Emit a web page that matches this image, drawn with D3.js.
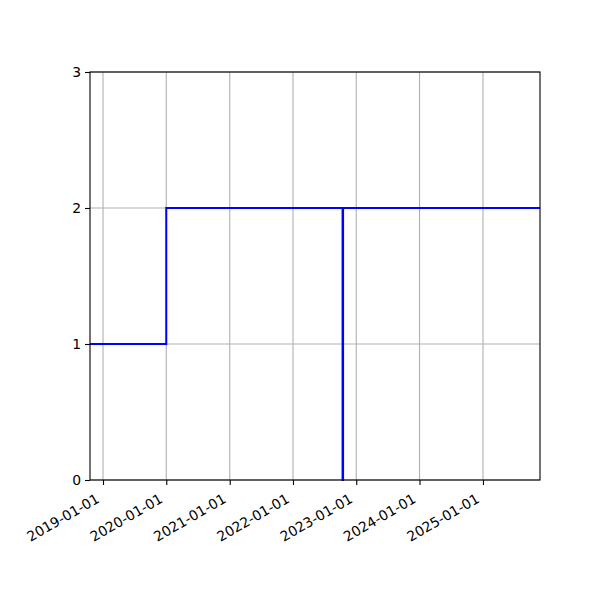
<!DOCTYPE html>
<html>
<head>
<meta charset="utf-8">
<script src="https://cdn.jsdelivr.net/npm/d3@7"></script>
<style>
  body { margin: 0; background: #fff; }
  text { font-family: "DejaVu Sans", sans-serif; }
</style>
</head>
<body>
<div id="chart"></div>
<script>
// step data (drawn as step-after)
var stepDates = ["2018-10-18", "2020-01-01", "2022-10-14", "2022-10-17", "2025-11-26"];
var stepValues = [1, 2, 0, 2, 2];

// axis ticks
var xTickLabels = ["2019-01-01", "2020-01-01", "2021-01-01", "2022-01-01", "2023-01-01", "2024-01-01", "2025-01-01"];
var yTickValues = [0, 1, 2, 3];
var xDomain = ["2018-10-18", "2025-11-26"];

var width = 600, height = 600;
var plotLeft = 90, plotRight = 540, plotTop = 72, plotBottom = 480;

var parse = d3.timeParse("%Y-%m-%d");

var svg = d3.select("#chart").append("svg")
    .attr("width", width)
    .attr("height", height);

var xScale = d3.scaleTime()
    .domain(xDomain.map(function(d) { return parse(d); }))
    .range([plotLeft, plotRight]);

var yScale = d3.scaleLinear()
    .domain([0, 3])
    .range([plotBottom, plotTop]);

// grid lines
var grid = svg.append("g").attr("class", "grid");
xTickLabels.forEach(function(t) {
  var x = xScale(parse(t));
  grid.append("line")
      .attr("x1", x).attr("x2", x)
      .attr("y1", plotTop).attr("y2", plotBottom)
      .attr("stroke", "#b0b0b0").attr("stroke-width", 1.1);
});
yTickValues.forEach(function(v) {
  var y = yScale(v);
  grid.append("line")
      .attr("x1", plotLeft).attr("x2", plotRight)
      .attr("y1", y).attr("y2", y)
      .attr("stroke", "#b0b0b0").attr("stroke-width", 1.1);
});

// the step line
var data = stepDates.map(function(d, i) {
  return { date: parse(d), value: stepValues[i] };
});

var line = d3.line()
    .x(function(d) { return xScale(d.date); })
    .y(function(d) { return yScale(d.value); })
    .curve(d3.curveStepAfter);

svg.append("path")
    .datum(data)
    .attr("d", line)
    .attr("fill", "none")
    .attr("stroke", "blue")
    .attr("stroke-width", 2);

// axes
var xAxis = d3.axisBottom(xScale)
    .tickValues(xTickLabels.map(function(d) { return parse(d); }))
    .tickFormat(d3.timeFormat("%Y-%m-%d"))
    .tickSizeOuter(0)
    .tickSize(5);

var gx = svg.append("g")
    .attr("transform", "translate(0," + plotBottom + ")")
    .call(xAxis);
gx.select(".domain").remove();
gx.selectAll("line").attr("stroke", "#000").attr("stroke-width", 1.1);
gx.selectAll("text")
    .attr("font-size", 13.9)
    .attr("fill", "#000")
    .attr("text-anchor", "end")
    .attr("x", 0)
    .attr("y", 0)
    .attr("dy", "0.71em")
    .attr("transform", "translate(-8,13) rotate(-30)");

var yAxis = d3.axisLeft(yScale)
    .tickValues(yTickValues)
    .tickFormat(d3.format("d"))
    .tickSizeOuter(0)
    .tickSize(5)
    .tickPadding(4);

var gy = svg.append("g")
    .attr("transform", "translate(" + plotLeft + ",0)")
    .call(yAxis);
gy.select(".domain").remove();
gy.selectAll("line").attr("stroke", "#000").attr("stroke-width", 1.1);
gy.selectAll("text")
    .attr("font-size", 13.9)
    .attr("fill", "#000");

// frame
svg.append("rect")
    .attr("x", plotLeft).attr("y", plotTop)
    .attr("width", plotRight - plotLeft).attr("height", plotBottom - plotTop)
    .attr("fill", "none")
    .attr("stroke", "#000")
    .attr("stroke-width", 1.1);
</script>
</body>
</html>
